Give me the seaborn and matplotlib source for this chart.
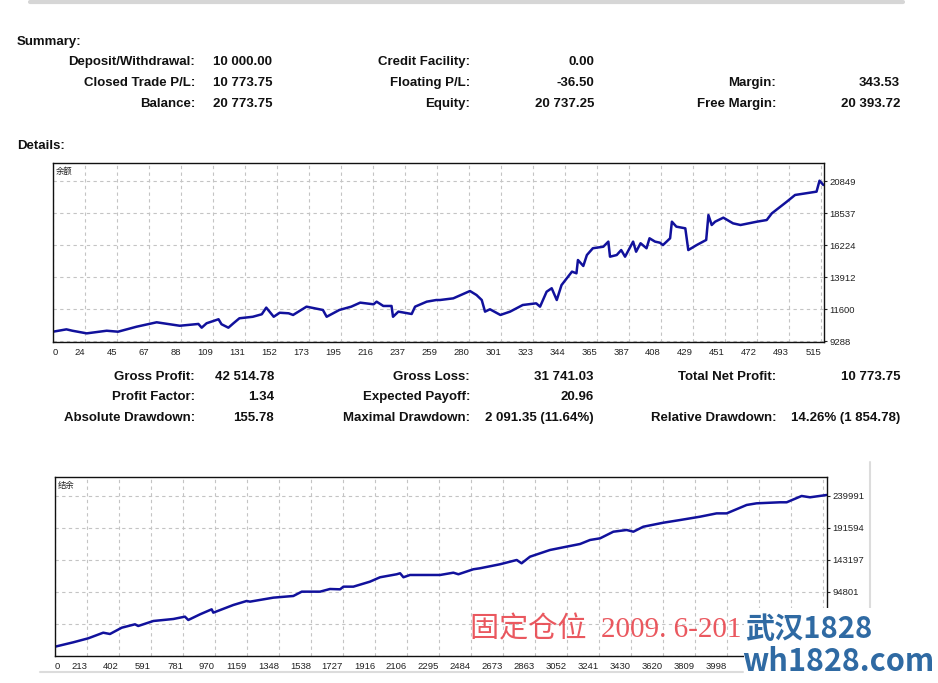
"""MT4 strategy tester report: summary tables plus balance curves."""
import numpy as np
import matplotlib
matplotlib.use("Agg")
import matplotlib.pyplot as plt
from matplotlib.patches import Rectangle
import seaborn as sns

W, H = 938, 683

# --- summary table (label, value) ---
summary_col1 = [("Deposit/Withdrawal:", "10 000.00"), ("Closed Trade P/L:", "10 773.75"), ("Balance:", "20 773.75")]
summary_col2 = [("Credit Facility:", "0.00"), ("Floating P/L:", "-36.50"), ("Equity:", "20 737.25")]
summary_col3 = [("", ""), ("Margin:", "343.53"), ("Free Margin:", "20 393.72")]

details_col1 = [("Gross Profit:", "42 514.78"), ("Profit Factor:", "1.34"), ("Absolute Drawdown:", "155.78")]
details_col2 = [("Gross Loss:", "31 741.03"), ("Expected Payoff:", "20.96"), ("Maximal Drawdown:", "2 091.35 (11.64%)")]
details_col3 = [("Total Net Profit:", "10 773.75"), ("", ""), ("Relative Drawdown:", "14.26% (1 854.78)")]

# --- chart 1: balance by trade number ---
balance_trades = [0, 9, 13, 22.6, 36, 43.6, 56, 69.5, 85, 97.5, 99.7, 103, 111, 113, 117.6, 121, 125,
                  134, 140, 143, 148, 152, 158, 161, 170, 181, 183.5, 192, 200, 206, 215, 217, 221.5,
                  227, 228, 231.6, 240.5, 242.8, 250.6, 257, 259.5, 268.4, 279.6, 284, 287.5, 289.7,
                  293, 300, 306.5, 315, 324, 326.6, 331, 334.4, 337.8, 341, 348, 351, 352, 355.6, 358,
                  362, 369, 372.4, 373.5, 378, 381, 383.6, 389, 391, 394, 398, 400, 403.7, 407, 409,
                  413.8, 415, 418, 424, 426, 431.6, 438, 439.5, 441.7, 444, 449.5, 456, 461, 472,
                  478.6, 482, 492, 497.6, 512, 514, 516.6]
balance_values = [9960, 10130, 10030, 9840, 10030, 9960, 10320, 10640, 10390, 10520, 10250, 10570, 10860,
                  10500, 10250, 10570, 10930, 11040, 11220, 11700, 11040, 11330, 11290, 11170, 11770,
                  11530, 11040, 11530, 11770, 12060, 11940, 12130, 11820, 11820, 11040, 11410, 11240,
                  11770, 12130, 12250, 12250, 12370, 12900, 12610, 12250, 11410, 11580, 11170, 11410,
                  11890, 12010, 11770, 12850, 13100, 12250, 13330, 14300, 14180, 15140, 14710, 15500,
                  15990, 16100, 16470, 15380, 15500, 15860, 15380, 16470, 15740, 16350, 15990, 16710,
                  16470, 16390, 16220, 16710, 17910, 17550, 17430, 15860, 16220, 16590, 18390, 17670,
                  17910, 18200, 17790, 17670, 17910, 18030, 18510, 19350, 19840, 20080, 20870, 20560]
balance_xlabels = ["0", "24", "45", "67", "88", "109", "131", "152", "173", "195", "216", "237", "259",
                   "280", "301", "323", "344", "365", "387", "408", "429", "451", "472", "493", "515"]
balance_yticks = [9288, 11600, 13912, 16224, 18537, 20849]

# --- chart 2: long-run balance ---
growth_trades = [0, 109, 198, 287, 327, 397, 476, 495, 585, 704, 773, 793, 863, 932, 942, 1061, 1140,
                 1160, 1299, 1418, 1468, 1577, 1636, 1696, 1716, 1775, 1874, 1934, 2033, 2053, 2073,
                 2112, 2291, 2370, 2400, 2489, 2528, 2647, 2747, 2776, 2826, 2945, 3024, 3124, 3183,
                 3243, 3322, 3401, 3441, 3500, 3619, 3718, 3837, 3936, 3996, 4115, 4174, 4313, 4353,
                 4442, 4492, 4591]
growth_values = [12070, 18730, 24780, 33250, 31290, 40810, 45950, 43380, 50940, 53970, 57500, 52460,
                 61030, 68590, 63550, 75150, 81200, 80190, 86240, 88760, 95310, 95310, 99340, 98840,
                 102870, 102870, 110430, 117080, 121620, 123130, 117080, 120530, 120530, 124000,
                 121620, 129180, 130650, 136700, 143200, 138200, 148200, 158330, 162360, 167400,
                 173450, 175970, 185980, 188570, 185980, 193520, 199570, 203600, 208640, 213690,
                 213690, 226400, 228900, 230450, 230450, 240000, 238000, 241500]
# labels past 3998 and below 94801 sit under the watermark in the original
growth_xlabels = ["0", "213", "402", "591", "781", "970", "1159", "1348", "1538", "1727", "1916", "2106",
                  "2295", "2484", "2673", "2863", "3052", "3241", "3430", "3620", "3809", "3998"]
growth_xticks_total = 25
growth_yticks = [-1993, 46404, 94801, 143197, 191594, 239991]
growth_ylabels = ["", "", "94801", "143197", "191594", "239991"]

LINE = "#11119c"
GRID = "#c4c4c4"
TXT = "#111111"

sns.set_style("white")
plt.rcParams["font.family"] = ["Liberation Sans", "Noto Sans CJK SC", "DejaVu Sans"]

fig = plt.figure(figsize=(W / 100, H / 100), dpi=100)
fig.patch.set_facecolor("white")


def ftext(x, y, s, **kw):
    kw.setdefault("va", "center")
    kw.setdefault("color", TXT)
    return fig.text(x / W, 1 - y / H, s, **kw)


def btext(x, y, s, **kw):
    # y is the visual centre of the row; place on a common baseline (off the .5 boundary)
    return ftext(x, y + 3.8, s, va="baseline", fontsize=9.5, fontweight="bold", **kw)


def table(cols, rows_y, label_x, value_x, value_ha):
    for col, lx, vx, ha in zip(cols, label_x, value_x, value_ha):
        for (lab, val), y in zip(col, rows_y):
            if lab:
                btext(lx, y, lab, ha="right")
                btext(vx, y, val, ha=ha)


# header frame remnant at top
fig.add_artist(plt.Line2D([30 / W, 903 / W], [1 - 2 / H, 1 - 2 / H], color="#d6d6d6", lw=3))

btext(17, 41, "Summary:", ha="left")
table([summary_col1, summary_col2, summary_col3], [61, 82, 103],
      [195, 470, 776], [213, 594, 900], ["left", "right", "right"])

btext(17, 145, "Details:", ha="left")
table([details_col1, details_col2, details_col3], [376, 396, 417],
      [195, 470, 776], [274, 594, 900], ["right", "right", "right"])


def curve(rect, xs, ys, xlabels, nticks, step, xmax, yticks, ylabels, ylim, title):
    ax = fig.add_axes(rect)
    sns.lineplot(x=xs, y=ys, ax=ax, color=LINE, lw=1.8, estimator=None, sort=False)
    ax.set_xlim(0, xmax)
    ax.set_ylim(*ylim)
    ax.set_xticks(np.arange(nticks) * step)
    ax.set_xticklabels(list(xlabels) + [""] * (nticks - len(xlabels)))
    for i, lbl in enumerate(ax.get_xticklabels()):
        lbl.set_ha("left" if i == 0 else "right")
    ax.yaxis.tick_right()
    ax.set_yticks(yticks)
    ax.set_yticklabels(ylabels)
    ax.tick_params(axis="both", labelsize=6.8, length=2.5, width=0.8, colors="#222222",
                   direction="out", pad=1.5)
    ax.tick_params(axis="x", pad=2)
    ax.grid(True, color=GRID, lw=0.8, linestyle=(0, (3, 3)))
    for sp in ax.spines.values():
        sp.set_visible(True)
        sp.set_color("#111111")
        sp.set_linewidth(1.0)
    ax.set_xlabel("")
    ax.set_ylabel("")
    ax.text(0.004, 0.955, title, transform=ax.transAxes, fontsize=6, ha="left", va="center",
            family=["Noto Sans CJK SC", "DejaVu Sans"], color="#222222")
    return ax


curve([53 / W, 1 - 342 / H, 771 / W, 179 / H], balance_trades, balance_values, balance_xlabels,
      len(balance_xlabels), 515 / 24, 517, balance_yticks, [str(v) for v in balance_yticks],
      (9216, 22150), "余额")

curve([55 / W, 1 - 656 / H, 772 / W, 179 / H], growth_trades, growth_values, growth_xlabels,
      growth_xticks_total, 3998 / 21, 4593, growth_yticks, growth_ylabels, (-1993, 268700), "结余")

# panel edges around the lower chart
fig.add_artist(plt.Line2D([870 / W, 870 / W], [1 - 462 / H, 1 - 608 / H], color="#dcdcdc", lw=1.5))
fig.add_artist(plt.Line2D([40 / W, 743 / W], [1 - 672 / H, 1 - 672 / H], color="#dcdcdc", lw=1.5))

# watermark
ftext(470, 630, "固定仓位  2009. 6-201", ha="left", fontsize=21, color="#e8464e", alpha=0.9,
      family=["Liberation Serif", "Noto Sans CJK SC"], zorder=4)
fig.add_artist(Rectangle((744 / W, 0), 1 - 744 / W, 75 / H, transform=fig.transFigure,
                         facecolor="white", edgecolor="none", zorder=5))
ftext(745, 629, "武汉1828", ha="left", fontsize=21, fontweight="bold", color="#2f6aa3",
      family=["Noto Sans CJK SC", "DejaVu Sans"], zorder=6)
ftext(742, 662, "wh1828.com", ha="left", fontsize=22, fontweight="bold", color="#2f6aa3",
      family=["Noto Sans CJK SC", "DejaVu Sans"], zorder=6)

fig.savefig("out.png", dpi=100)
